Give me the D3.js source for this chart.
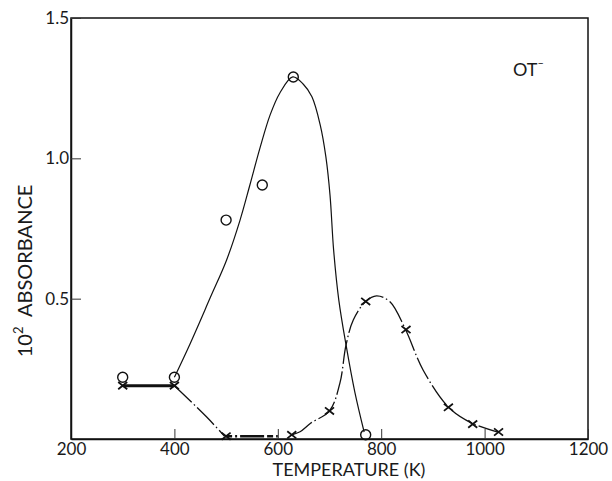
<!DOCTYPE html>
<html>
<head>
<meta charset="utf-8">
<script src="https://cdn.jsdelivr.net/npm/d3@7"></script>
<style>
  body { margin: 0; background: #fff; }
  svg text { font-family: Lato, "Open Sans", sans-serif; font-weight: 400; fill: #1a1a1a; }
</style>
</head>
<body>
<div id="chart"></div>
<script>
(function(){
  // measured points (circles / crosses)
  const circleT = [300, 400, 500, 570, 630, 770];
  const circleA = [0.22, 0.22, 0.78, 0.905, 1.29, 0.015];
  const crossT = [300, 400, 500, 627, 700, 770, 848, 930, 977, 1027];
  const crossA = [0.19, 0.19, 0.01, 0.015, 0.10, 0.49, 0.39, 0.113, 0.053, 0.025];

  // hand-drawn guide curves
  const circleCurveT = [400, 430, 469, 501, 527, 546, 566, 585, 604, 629, 649, 666, 682, 693, 701, 708, 718, 732, 749, 767];
  const circleCurveA = [0.22, 0.338, 0.502, 0.638, 0.78, 0.905, 1.04, 1.154, 1.233, 1.29, 1.265, 1.219, 1.119, 1.005, 0.869, 0.673, 0.495, 0.335, 0.167, 0.025];
  const flatHiT = [300, 400];
  const flatHiA = [0.19, 0.19];
  const dropT = [400, 462, 497];
  const dropA = [0.19, 0.079, 0.01];
  const flatLoT = [500, 600];
  const flatLoA = [0.01, 0.01];
  const crossCurveT = [627, 643, 664, 700, 720, 732, 746, 770, 791, 817, 847, 881, 931, 976, 1027];
  const crossCurveA = [0.015, 0.026, 0.057, 0.10, 0.198, 0.335, 0.424, 0.49, 0.51, 0.489, 0.39, 0.246, 0.112, 0.056, 0.024];

  const xTicks = [200, 400, 600, 800, 1000, 1200];
  const yTicks = [0.5, 1.0, 1.5];

  const width = 612, height = 481;
  const svg = d3.select('#chart').append('svg')
    .attr('width', width)
    .attr('height', height);

  const x = d3.scaleLinear().domain([200, 1200]).range([71, 588]);
  const y = d3.scaleLinear().domain([0, 1.5]).range([439, 18]);

  const zip = (ts, as) => ts.map((t, i) => [t, as[i]]);

  // frame
  svg.append('rect')
    .attr('x', x(200)).attr('y', y(1.5))
    .attr('width', x(1200) - x(200)).attr('height', y(0) - y(1.5))
    .attr('fill', 'none').attr('stroke', '#111').attr('stroke-width', 1.5);

  const xAxis = svg.append('g')
    .attr('transform', 'translate(0,' + y(0) + ')')
    .call(d3.axisBottom(x).tickValues(xTicks).tickSizeInner(-10).tickSizeOuter(0).tickPadding(4).tickFormat(d3.format('d')));
  const yAxis = svg.append('g')
    .attr('transform', 'translate(' + x(200) + ',0)')
    .call(d3.axisLeft(y).tickValues(yTicks).tickSizeInner(-10).tickSizeOuter(0).tickPadding(2).tickFormat(d3.format('.1f')));
  [xAxis, yAxis].forEach(function(a) {
    a.select('.domain').attr('stroke', '#111').attr('stroke-width', 1.5);
    a.selectAll('.tick line').attr('stroke', '#333').attr('stroke-width', 1);
    a.selectAll('.tick text').attr('font-size', 17).attr('fill', '#1a1a1a')
      .style('font-family', 'Lato, sans-serif');
  });

  const line = d3.line().x(d => x(d[0])).y(d => y(d[1]));
  const smooth = d3.line().x(d => x(d[0])).y(d => y(d[1])).curve(d3.curveCatmullRom.alpha(0.5));

  svg.append('path').datum(zip(circleCurveT, circleCurveA))
    .attr('d', smooth).attr('fill', 'none').attr('stroke', '#111').attr('stroke-width', 1.2);

  svg.append('path').datum(zip(flatHiT, flatHiA))
    .attr('d', line).attr('fill', 'none').attr('stroke', '#111').attr('stroke-width', 3);
  svg.append('path').datum(zip(dropT, dropA))
    .attr('d', smooth).attr('fill', 'none').attr('stroke', '#111').attr('stroke-width', 1.3)
    .attr('stroke-dasharray', '24,3,1.5,3');
  svg.append('path').datum(zip(flatLoT, flatLoA))
    .attr('d', line).attr('fill', 'none').attr('stroke', '#111').attr('stroke-width', 2.6)
    .attr('stroke-dasharray', '6,3,2,3,24,3');
  svg.append('path').datum(zip(crossCurveT, crossCurveA))
    .attr('d', smooth).attr('fill', 'none').attr('stroke', '#111').attr('stroke-width', 1.3)
    .attr('stroke-dasharray', '24,3,1.5,3');

  // circles
  svg.selectAll('.circ')
    .data(zip(circleT, circleA))
    .enter().append('circle')
    .attr('class', 'circ')
    .attr('cx', d => x(d[0])).attr('cy', d => y(d[1]))
    .attr('r', 5)
    .attr('fill', 'none').attr('stroke', '#111').attr('stroke-width', 1.4);

  // crosses
  const cs = 4.5;
  svg.selectAll('.cross')
    .data(zip(crossT, crossA))
    .enter().append('path')
    .attr('class', 'cross')
    .attr('d', function(d) {
      const cx = x(d[0]), cy = y(d[1]);
      return 'M' + (cx - cs) + ',' + (cy - cs * 0.8) + 'L' + (cx + cs) + ',' + (cy + cs * 0.8) +
             'M' + (cx - cs) + ',' + (cy + cs * 0.8) + 'L' + (cx + cs) + ',' + (cy - cs * 0.8);
    })
    .attr('stroke', '#111').attr('stroke-width', 1.8);

  // labels
  svg.append('text')
    .attr('x', 349).attr('y', 476)
    .attr('text-anchor', 'middle').attr('font-size', 18)
    .text('TEMPERATURE (K)');

  const yl = svg.append('text')
    .attr('transform', 'translate(32,271) rotate(-90)')
    .attr('text-anchor', 'middle').attr('font-size', 20);
  yl.append('tspan').text('10');
  yl.append('tspan').attr('font-size', 13).attr('dy', -9).text('2');
  yl.append('tspan').attr('dy', 9).text('\u00a0 ABSORBANCE');

  const ot = svg.append('text')
    .attr('x', 513).attr('y', 76).attr('font-size', 18);
  ot.append('tspan').text('OT');
  ot.append('tspan').attr('font-size', 11).attr('dy', -9).text('\u2013');
})();
</script>
</body>
</html>
